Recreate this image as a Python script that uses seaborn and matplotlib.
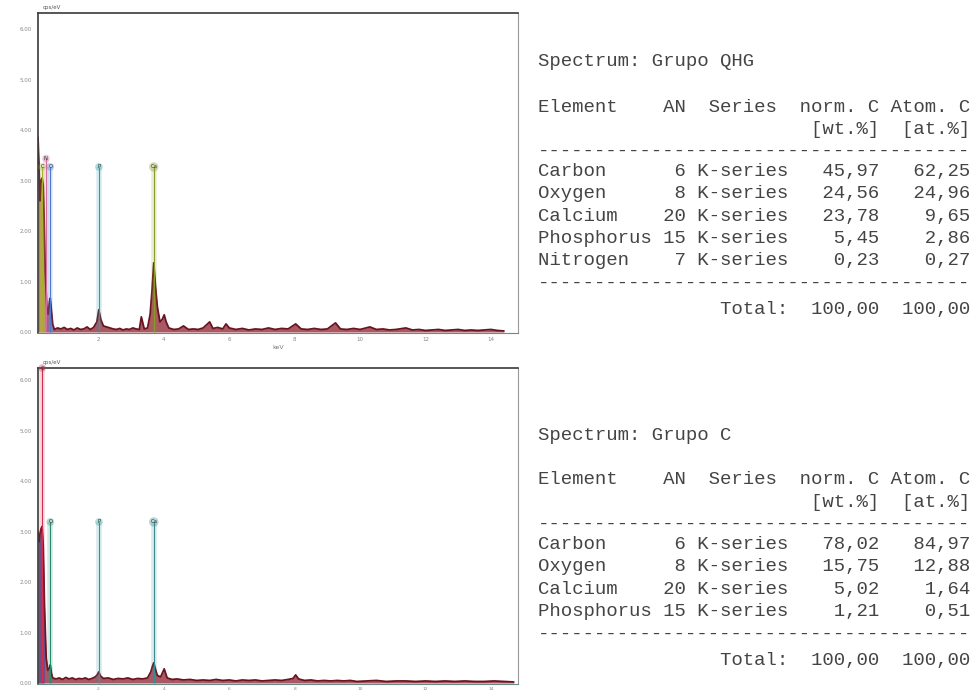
import numpy as np
import seaborn as sns
import matplotlib.pyplot as plt
from matplotlib.ticker import MultipleLocator

# EDS spectrum, Grupo QHG (keV, cps/eV)
qhg_kev = [0.15, 0.18, 0.21, 0.24, 0.277, 0.31, 0.34, 0.37, 0.392, 0.42, 0.46, 0.50, 0.525, 0.55,
           0.60, 0.65, 0.75, 0.85, 0.95, 1.05, 1.15, 1.25, 1.35, 1.45, 1.55, 1.65, 1.75, 1.85,
           1.95, 2.01, 2.07, 2.15, 2.25, 2.35, 2.45, 2.55, 2.65, 2.75, 2.85, 2.95, 3.05, 3.15,
           3.25, 3.31, 3.40, 3.50, 3.58, 3.64, 3.69, 3.74, 3.80, 3.88, 3.95, 4.01, 4.07, 4.15,
           4.30, 4.45, 4.60, 4.75, 4.90, 5.05, 5.20, 5.40, 5.50, 5.65, 5.80, 5.90, 6.00, 6.20,
           6.40, 6.60, 6.80, 7.00, 7.20, 7.40, 7.60, 7.80, 8.03, 8.20, 8.40, 8.60, 8.80, 9.00,
           9.25, 9.40, 9.60, 9.80, 10.0, 10.3, 10.5, 10.7, 10.9, 11.1, 11.4, 11.6, 11.8, 12.0,
           12.2, 12.4, 12.6, 12.8, 13.0, 13.2, 13.4, 13.6, 13.8, 14.0, 14.2, 14.4]
qhg_cps = [3.86, 3.30, 2.60, 3.00, 3.05, 2.90, 2.20, 1.20, 0.90, 0.50, 0.35, 0.60, 0.67, 0.50,
           0.15, 0.05, 0.08, 0.06, 0.09, 0.05, 0.07, 0.04, 0.08, 0.05, 0.06, 0.10, 0.05, 0.09,
           0.20, 0.44, 0.25, 0.12, 0.10, 0.08, 0.06, 0.05, 0.07, 0.04, 0.06, 0.05, 0.08, 0.06,
           0.05, 0.30, 0.06, 0.08, 0.35, 0.85, 1.37, 0.93, 0.50, 0.20, 0.25, 0.34, 0.20, 0.08,
           0.05, 0.06, 0.12, 0.05, 0.06, 0.05, 0.08, 0.20, 0.07, 0.09, 0.06, 0.16, 0.08, 0.05,
           0.07, 0.04, 0.06, 0.05, 0.08, 0.05, 0.07, 0.06, 0.16, 0.06, 0.05, 0.07, 0.05, 0.06,
           0.18, 0.06, 0.05, 0.07, 0.05, 0.10, 0.05, 0.06, 0.04, 0.05, 0.08, 0.04, 0.05, 0.03,
           0.04, 0.05, 0.03, 0.04, 0.05, 0.03, 0.04, 0.03, 0.04, 0.05, 0.03, 0.02]

# EDS spectrum, Grupo C
c_kev = [0.15, 0.18, 0.21, 0.24, 0.277, 0.31, 0.35, 0.40, 0.45, 0.50, 0.525, 0.56, 0.60, 0.70,
         0.80, 0.90, 1.00, 1.10, 1.20, 1.30, 1.40, 1.50, 1.60, 1.70, 1.80, 1.90, 1.96, 2.01,
         2.06, 2.15, 2.30, 2.45, 2.60, 2.75, 2.90, 3.05, 3.20, 3.35, 3.50, 3.60, 3.65, 3.69,
         3.73, 3.80, 3.90, 4.01, 4.10, 4.25, 4.40, 4.60, 4.80, 5.00, 5.20, 5.40, 5.60, 5.80,
         6.00, 6.20, 6.40, 6.60, 6.80, 7.00, 7.20, 7.40, 7.60, 7.80, 7.95, 8.03, 8.12, 8.30,
         8.50, 8.70, 8.90, 9.10, 9.30, 9.50, 9.70, 9.90, 10.2, 10.5, 10.8, 11.1, 11.4, 11.7,
         12.0, 12.3, 12.6, 12.9, 13.2, 13.5, 13.8, 14.1, 14.4, 14.7]
c_cps = [3.00, 2.80, 2.95, 3.05, 3.10, 2.70, 1.50, 0.50, 0.25, 0.30, 0.36, 0.20, 0.10, 0.08,
         0.10, 0.07, 0.11, 0.08, 0.10, 0.07, 0.09, 0.08, 0.10, 0.07, 0.09, 0.12, 0.16, 0.22,
         0.14, 0.09, 0.10, 0.07, 0.09, 0.08, 0.10, 0.07, 0.09, 0.08, 0.10, 0.22, 0.33, 0.40,
         0.30, 0.15, 0.12, 0.28, 0.10, 0.07, 0.08, 0.06, 0.07, 0.05, 0.06, 0.05, 0.07, 0.05,
         0.06, 0.04, 0.06, 0.05, 0.06, 0.04, 0.05, 0.06, 0.05, 0.07, 0.09, 0.16, 0.08, 0.05,
         0.06, 0.04, 0.05, 0.04, 0.05, 0.04, 0.05, 0.03, 0.04, 0.05, 0.03, 0.04, 0.04, 0.03,
         0.04, 0.03, 0.04, 0.03, 0.04, 0.03, 0.03, 0.04, 0.03, 0.02]

# element lines
qhg_sym = ['C', 'N', 'O', 'P', 'Ca']
qhg_line_kev = [0.277, 0.392, 0.525, 2.013, 3.690]
qhg_line_top = [3.27, 3.44, 3.27, 3.27, 3.27]
qhg_line_col = ['#a8b030', '#d070a0', '#5078d0', '#20a0a8', '#8a9a28']
qhg_win = [(0.17, 0.37, '#c8d050'), (0.46, 0.60, '#7090d8')]

c_sym = ['C', 'O', 'P', 'Ca']
c_line_kev = [0.277, 0.525, 2.013, 3.690]
c_line_top = [6.24, 3.19, 3.19, 3.19]
c_line_col = ['#d03050', '#2a8a70', '#2a9aa0', '#3a8a90']
c_win = [(0.15, 0.36, '#3050b0')]

# quantification tables
qhg_elem = ['Carbon', 'Oxygen', 'Calcium', 'Phosphorus', 'Nitrogen']
qhg_an = [6, 8, 20, 15, 7]
qhg_wt = ['45,97', '24,56', '23,78', '5,45', '0,23']
qhg_at = ['62,25', '24,96', '9,65', '2,86', '0,27']

c_elem = ['Carbon', 'Oxygen', 'Calcium', 'Phosphorus']
c_an = [6, 8, 20, 15]
c_wt = ['78,02', '15,75', '5,02', '1,21']
c_at = ['84,97', '12,88', '1,64', '0,51']

sns.set_style('white')
plt.rcParams['font.family'] = ['DejaVu Sans']

W, H = 979, 692
fig = plt.figure(figsize=(W / 100, H / 100), dpi=100)


def px_axes(left, top, right, bottom):
    return fig.add_axes([left / W, 1 - bottom / H, (right - left) / W, (bottom - top) / H])


def draw_spectrum(ax, kev, cps, wins, sym, lkev, ltop, lcol, ylim, xlabel):
    kev = np.array(kev)
    cps = np.array(cps)
    ax.fill_between(kev, 0, cps, color='#8e2030', alpha=0.75, lw=0)
    for a, b, col in wins:
        m = (kev >= a) & (kev <= b)
        ax.fill_between(kev, 0, cps, where=m, color=col, alpha=0.6, lw=0)
    sns.lineplot(x=kev, y=cps, ax=ax, color='#6a1420', lw=1.3, estimator=None, sort=False)
    for s, x, t, col in zip(sym, lkev, ltop, lcol):
        ax.vlines(x, 0, t, color=col, lw=4, alpha=0.18)
        ax.vlines(x, 0, t, color=col, lw=0.8)
        ax.text(x, t, s, fontsize=3.8, color='#203030', ha='center', va='center',
                clip_on=False,
                bbox=dict(boxstyle='circle,pad=0.25', fc=col, ec='none', alpha=0.35))
    ax.set_xlim(0.15, 14.83)
    ax.set_ylim(*ylim)
    ax.xaxis.set_minor_locator(MultipleLocator(0.5))
    ax.yaxis.set_minor_locator(MultipleLocator(0.2))
    ax.set_xticks([2, 4, 6, 8, 10, 12, 14])
    ax.set_xticklabels(['2', '4', '6', '8', '10', '12', '14'])
    ax.set_yticks([0, 1, 2, 3, 4, 5, 6])
    ax.set_yticklabels(['0.00', '1.00', '2.00', '3.00', '4.00', '5.00', '6.00'])
    ax.tick_params(which='both', direction='out', colors='#555555', labelcolor='#888888',
                   labelsize=4, width=0.6, pad=1.5)
    ax.tick_params(which='major', length=3)
    ax.tick_params(which='minor', length=1.5)
    ax.tick_params(axis='x', which='both', direction='inout')
    for side in ['top', 'left']:
        ax.spines[side].set_color('#3a3a3a')
        ax.spines[side].set_linewidth(1.2)
    ax.spines['right'].set_color('#999999')
    ax.spines['right'].set_linewidth(0.8)
    ax.spines['bottom'].set_color('#6a8a8a')
    ax.spines['bottom'].set_linewidth(0.8)
    ax.set_ylabel('')
    if xlabel:
        ax.set_xlabel('keV', fontsize=4.5, color='#777777', labelpad=2)
    ax.text(0.01, 1.01, 'cps/eV', transform=ax.transAxes, fontsize=4, color='#555555',
            va='bottom')


ax1 = px_axes(38, 13, 518, 333)
draw_spectrum(ax1, qhg_kev, qhg_cps, qhg_win, qhg_sym, qhg_line_kev, qhg_line_top,
              qhg_line_col, (-0.02, 6.32), True)

ax2 = px_axes(38, 368, 518, 684)
draw_spectrum(ax2, c_kev, c_cps, c_win, c_sym, c_line_kev, c_line_top,
              c_line_col, (-0.02, 6.24), False)
# the lower panel sits at the page edge: keep its tick labels tight
ax2.tick_params(axis='x', labelsize=3.2, pad=0.3)

# text tables
mono = dict(family=['Liberation Mono', 'DejaVu Sans Mono'], fontsize=13.7, color='#444444')
x0 = 538 / W


def line(txt, ypx):
    fig.text(x0, 1 - ypx / H, txt, ha='left', va='center', **mono)


def table(name, elem, an, wt, at, y_title, y_head, row_h):
    line('Spectrum: ' + name, y_title)
    line('Element    AN  Series  norm. C Atom. C', y_head)
    line(' ' * 24 + '[wt.%]  [at.%]', y_head + row_h)
    line('-' * 38, y_head + 2 * row_h)
    y = y_head + 2.9 * row_h
    for e, a, w, t in zip(elem, an, wt, at):
        line(f'{e:<10} {a:>2} K-series {w:>7} {t:>7}', y)
        y += row_h
    line('-' * 38, y)
    line(f"{'Total:':>22} {'100,00':>7} {'100,00':>7}", y + 1.2 * row_h)


table('Grupo QHG', qhg_elem, qhg_an, qhg_wt, qhg_at, 62, 107, 22.3)
table('Grupo C', c_elem, c_an, c_wt, c_at, 435, 480, 22.3)

fig.savefig('out.png', dpi=100)
